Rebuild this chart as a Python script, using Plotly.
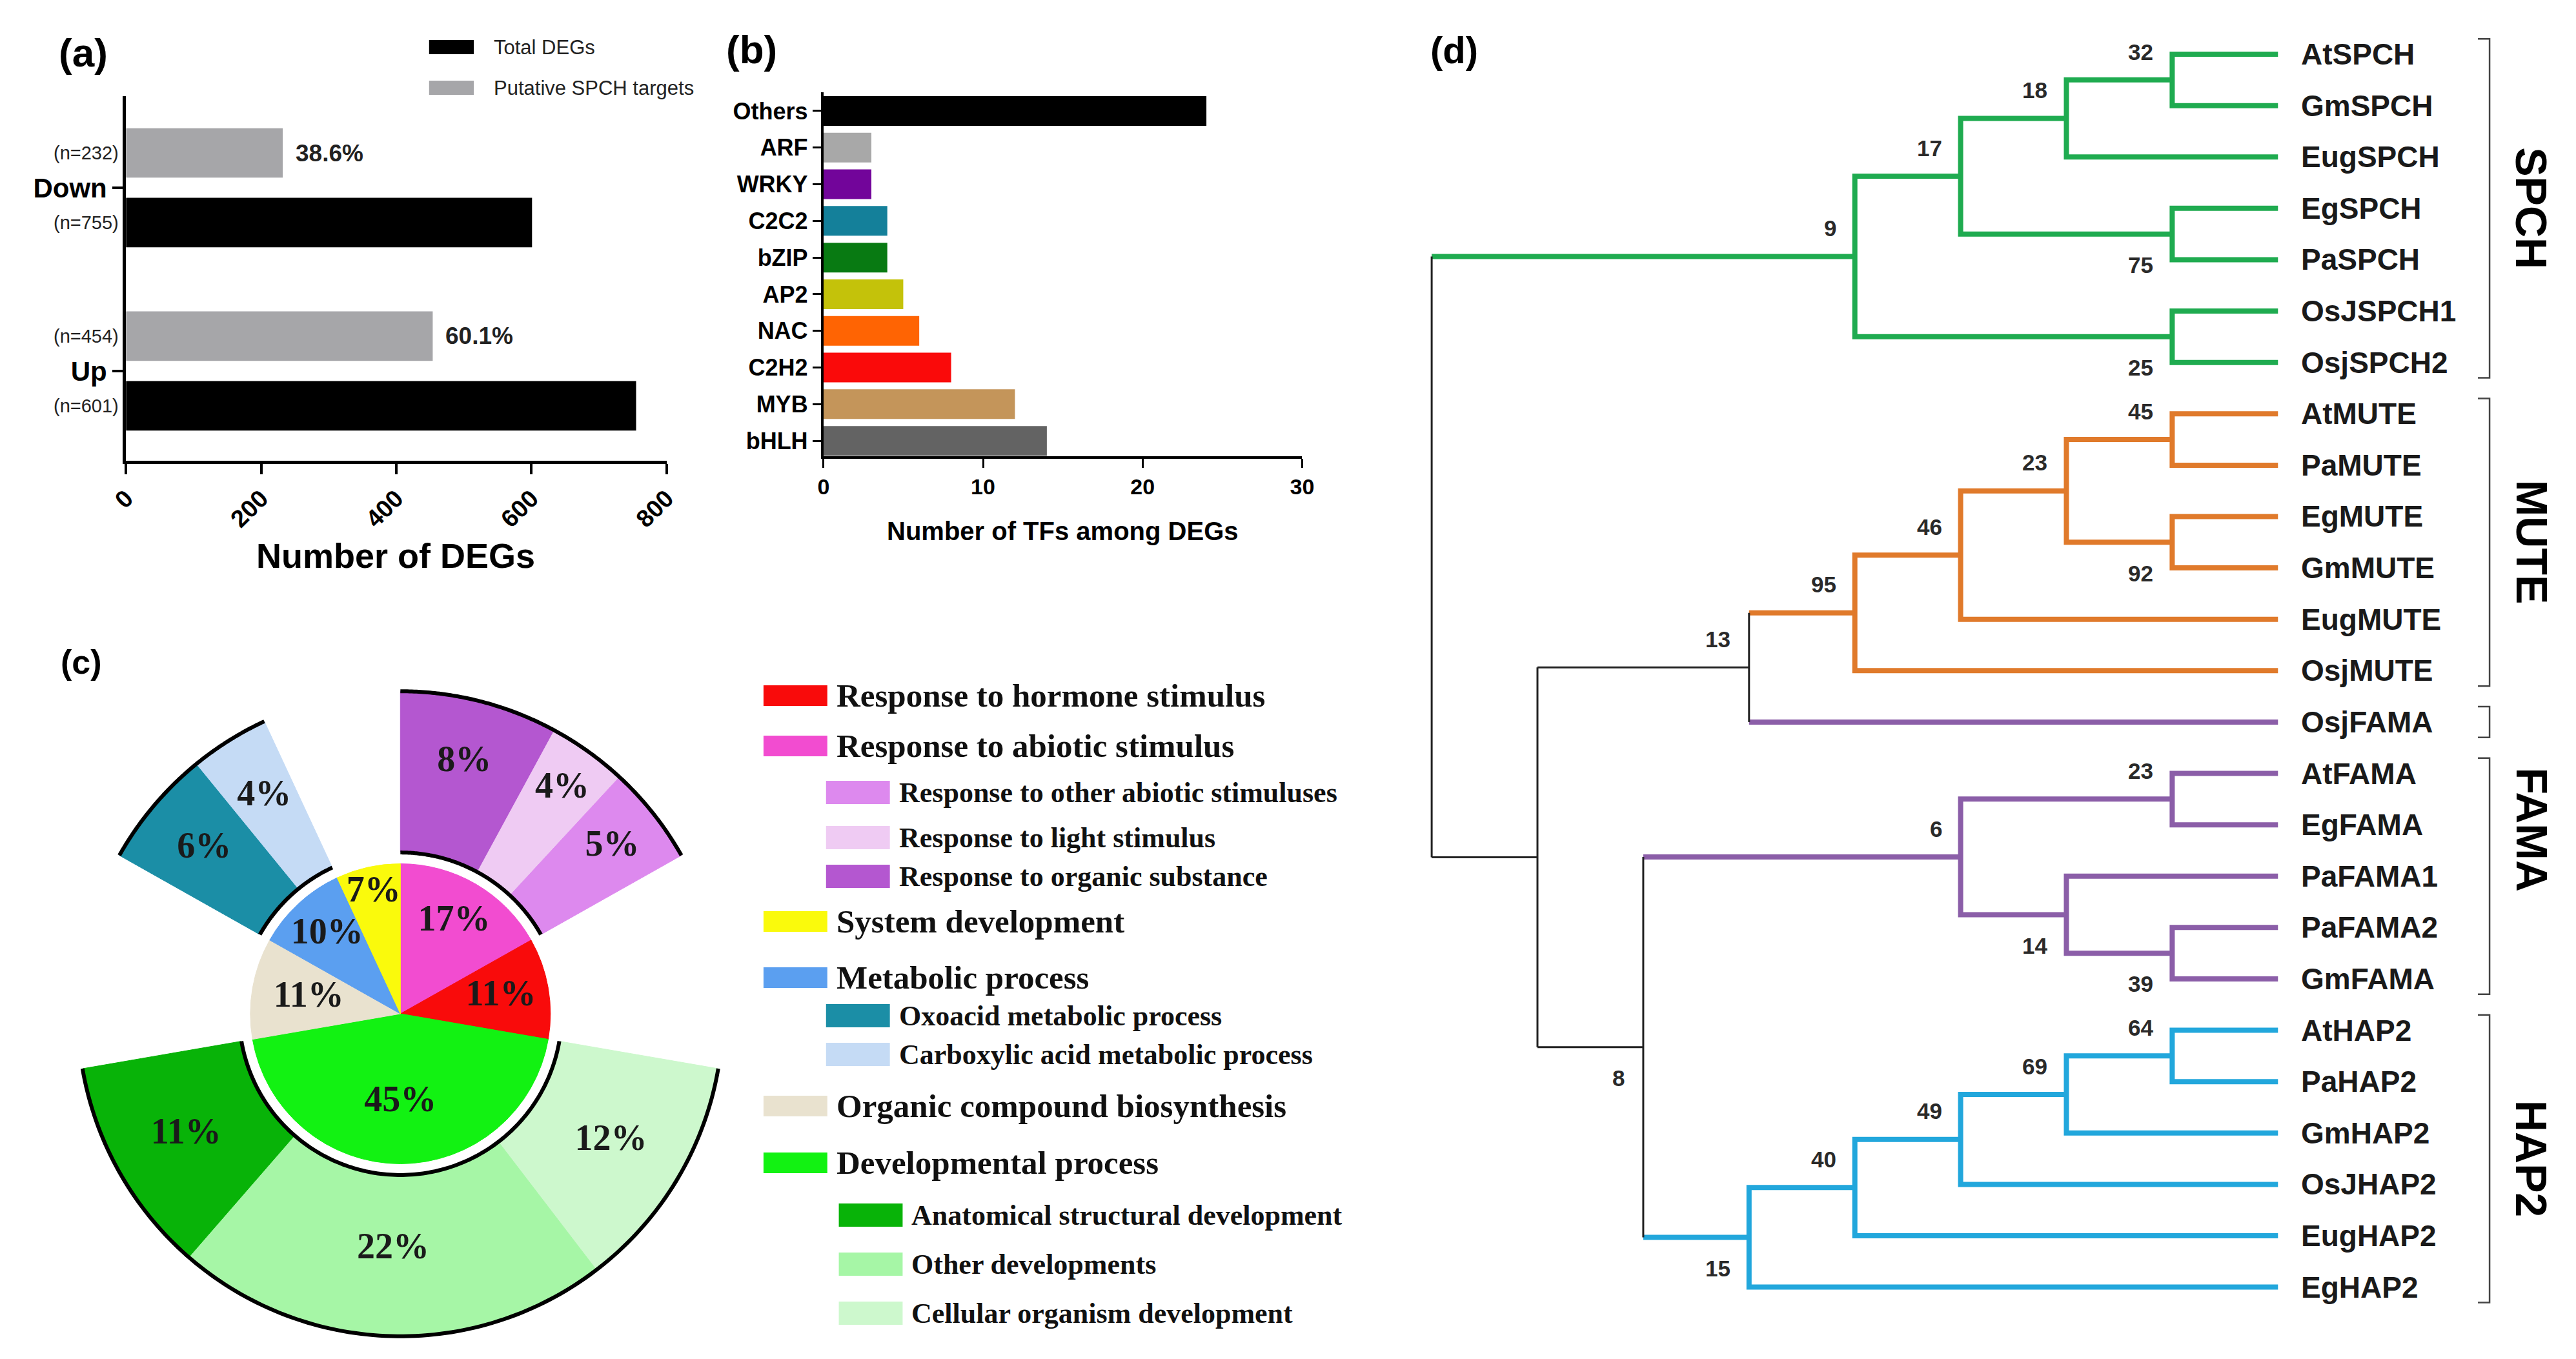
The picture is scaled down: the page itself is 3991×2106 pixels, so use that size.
import numpy as np
import plotly.graph_objects as go

W, H = 3991, 2106
def px(x): return x / W
def py(y): return 1 - y / H

SANS = "Liberation Sans"
SERIF = "Liberation Serif"

# ---------------- (a) DEGs ----------------
a_categories = ["Up", "Down"]
a_total_degs = [755, 601]
a_spch_targets = [454, 232]
a_target_pct = ["60.1%", "38.6%"]
a_total_n = ["(n=601)", "(n=755)"]
a_target_n = ["(n=454)", "(n=232)"]
a_xticks = [0, 200, 400, 600, 800]

# ---------------- (b) TF families ----------------
b_families = ["bHLH", "MYB", "C2H2", "NAC", "AP2", "bZIP", "C2C2", "WRKY", "ARF", "Others"]
b_counts = [14, 12, 8, 6, 5, 4, 4, 3, 3, 24]
b_colors = ["#636363", "#c4955a", "#fa0a0a", "#ff6403", "#c4c20a", "#087a12", "#14809a", "#72059a", "#a8a8a8", "#000000"]
b_xticks = [0, 10, 20, 30]

# ---------------- (c) GO categories ----------------
c_main_labels = ["Response to abiotic stimulus", "Response to hormone stimulus", "Developmental process",
                 "Organic compound biosynthesis", "Metabolic process", "System development"]
c_main_values = [17, 11, 45, 11, 10, 7]
c_main_text = ["17%", "11%", "45%", "11%", "10%", "7%"]
c_main_colors = ["#f24cd0", "#f90b0b", "#12f212", "#e9e2cf", "#5b9ff0", "#fafa0c"]

c_abiotic_labels = ["Response to organic substance", "Response to light stimulus", "Response to other abiotic stimuluses"]
c_abiotic_values = [8, 4, 5]
c_abiotic_colors = ["#b457d0", "#efcbf3", "#dd89ee"]

c_metabolic_labels = ["Oxoacid metabolic process", "Carboxylic acid metabolic process"]
c_metabolic_values = [6, 4]
c_metabolic_colors = ["#1b8ea6", "#c5dbf5"]

c_dev_labels = ["Cellular organism development", "Other developments", "Anatomical structural development"]
c_dev_values = [12, 22, 11]
c_dev_colors = ["#cdf8cd", "#a6f6a6", "#08b308"]

c_legend_order = ["Response to hormone stimulus", "Response to abiotic stimulus",
                  "Response to other abiotic stimuluses", "Response to light stimulus",
                  "Response to organic substance", "System development", "Metabolic process",
                  "Oxoacid metabolic process", "Carboxylic acid metabolic process",
                  "Organic compound biosynthesis", "Developmental process",
                  "Anatomical structural development", "Other developments", "Cellular organism development"]
c_legend_level = [0, 0, 1, 1, 1, 0, 0, 1, 1, 0, 0, 2, 2, 2]

# ---------------- (d) tree ----------------
d_leaves = ["AtSPCH", "GmSPCH", "EugSPCH", "EgSPCH", "PaSPCH", "OsJSPCH1", "OsjSPCH2",
            "AtMUTE", "PaMUTE", "EgMUTE", "GmMUTE", "EugMUTE", "OsjMUTE", "OsjFAMA",
            "AtFAMA", "EgFAMA", "PaFAMA1", "PaFAMA2", "GmFAMA",
            "AtHAP2", "PaHAP2", "GmHAP2", "OsJHAP2", "EugHAP2", "EgHAP2"]
d_leaf_clade = ["SPCH", "SPCH", "SPCH", "SPCH", "SPCH", "SPCH", "SPCH",
                "MUTE", "MUTE", "MUTE", "MUTE", "MUTE", "MUTE", "FAMA",
                "FAMA", "FAMA", "FAMA", "FAMA", "FAMA",
                "HAP2", "HAP2", "HAP2", "HAP2", "HAP2", "HAP2"]
d_node_id = ["n32", "n18", "n75", "n17", "n25", "n9", "n45", "n92", "n23m", "n46", "n95", "n13",
             "n23f", "n39", "n14", "n6", "n64", "n69", "n49", "n40", "n15", "n8", "nA", "root"]
d_node_upper = ["AtSPCH", "n32", "EgSPCH", "n18", "OsJSPCH1", "n17", "AtMUTE", "EgMUTE", "n45", "n23m", "n46", "n95",
                "AtFAMA", "PaFAMA2", "PaFAMA1", "n23f", "AtHAP2", "n64", "n69", "n49", "n40", "n6", "n13", "n9"]
d_node_lower = ["GmSPCH", "EugSPCH", "PaSPCH", "n75", "OsjSPCH2", "n25", "PaMUTE", "GmMUTE", "n92", "EugMUTE", "OsjMUTE", "OsjFAMA",
                "EgFAMA", "GmFAMA", "n39", "n14", "PaHAP2", "GmHAP2", "OsJHAP2", "EugHAP2", "EgHAP2", "n15", "n8", "nA"]
d_node_support = [32, 18, 75, 17, 25, 9, 45, 92, 23, 46, 95, 13,
                  23, 39, 14, 6, 64, 69, 49, 40, 15, 8, None, None]
d_node_clade = ["SPCH", "SPCH", "SPCH", "SPCH", "SPCH", "SPCH", "MUTE", "MUTE", "MUTE", "MUTE", "MUTE", None,
                "FAMA", "FAMA", "FAMA", "FAMA", "HAP2", "HAP2", "HAP2", "HAP2", "HAP2", None, None, None]
d_groups = ["SPCH", "MUTE", "", "FAMA", "HAP2"]
d_group_first = ["AtSPCH", "AtMUTE", "OsjFAMA", "AtFAMA", "AtHAP2"]
d_group_last = ["OsjSPCH2", "OsjMUTE", "OsjFAMA", "GmFAMA", "EgHAP2"]
d_clade_colors = {"SPCH": "#1fab50", "MUTE": "#e07a2b", "FAMA": "#8b5ea8", "HAP2": "#22a7dc"}

fig = go.Figure()
annotations = []
shapes = []

def font(size, family=SANS, bold=False, color="#000000"):
    f = dict(family=family, size=size, color=color)
    if bold:
        f["weight"] = "bold"
    return f

# ===== (a) =====
ya = list(range(len(a_categories)))
fig.add_trace(go.Bar(x=a_total_degs, y=ya, orientation="h", width=0.27, offset=-0.325,
                     marker=dict(color="#000000", line=dict(width=0)), xaxis="x", yaxis="y",
                     showlegend=False, hoverinfo="skip"))
fig.add_trace(go.Bar(x=a_spch_targets, y=ya, orientation="h", width=0.27, offset=0.055,
                     marker=dict(color="#a6a6a9", line=dict(width=0)), xaxis="x", yaxis="y",
                     showlegend=False, hoverinfo="skip"))
for i in ya:
    annotations.append(dict(text=a_target_pct[i], x=a_spch_targets[i], y=i + 0.19, xref="x", yref="y",
                            xanchor="left", yanchor="middle", xshift=18, showarrow=False, font=font(37, bold=True, color="#222")))
    annotations.append(dict(text=a_target_n[i], x=px(154), y=i + 0.19, xref="paper", yref="y",
                            xanchor="right", yanchor="middle", showarrow=False, font=font(29, color="#222")))
    annotations.append(dict(text=a_total_n[i], x=px(154), y=i - 0.19, xref="paper", yref="y",
                            xanchor="right", yanchor="middle", showarrow=False, font=font(29, color="#222")))
for label, color, yc in [("Total DEGs", "#000000", 65), ("Putative SPCH targets", "#a6a6a9", 128)]:
    shapes.append(dict(type="rect", xref="paper", yref="paper", x0=px(638), x1=px(708), y0=py(yc + 11), y1=py(yc - 11),
                       fillcolor=color, line=dict(width=0)))
    annotations.append(dict(text=label, x=px(737), y=py(yc), xref="paper", yref="paper", xanchor="left",
                            yanchor="middle", showarrow=False, font=font(31, color="#222")))
annotations.append(dict(text="Number of DEGs", x=px(586), y=py(853), xref="paper", yref="paper",
                        xanchor="center", yanchor="middle", showarrow=False, font=font(54, bold=True)))

# ===== (b) =====
yb = list(range(len(b_families)))
fig.add_trace(go.Bar(x=b_counts, y=yb, orientation="h", width=0.81,
                     marker=dict(color=b_colors, line=dict(width=0)), xaxis="x2", yaxis="y2",
                     showlegend=False, hoverinfo="skip"))
annotations.append(dict(text="Number of TFs among DEGs", x=px(1631), y=py(815), xref="paper", yref="paper",
                        xanchor="center", yanchor="middle", showarrow=False, font=font(40, bold=True)))

# ===== (c) =====
deg = 360.0 / sum(c_main_values)
main_w = np.array(c_main_values) * deg
main_start = np.concatenate([[0.0], np.cumsum(main_w)[:-1]])
main_mid = main_start + main_w / 2

R_PIE, R_ARC, R_BASE, R_OUT = 1.0, 1.075, 1.08, 2.15
main_label_r = [0.71, 0.68, 0.59, 0.62, 0.72, 0.83]
sub_label_r = [1.73, 1.85, 1.80, 1.71, 1.71, 1.64, 1.57, 1.64]

fig.add_trace(go.Barpolar(r=[R_PIE] * len(c_main_values), theta=main_mid, width=main_w, base=0,
                          marker=dict(color=c_main_colors, line=dict(color=c_main_colors, width=1)),
                          subplot="polar", showlegend=False, hoverinfo="skip"))
sub_groups = [(0, c_abiotic_values, c_abiotic_colors), (4, c_metabolic_values, c_metabolic_colors),
              (2, c_dev_values, c_dev_colors)]
sub_theta, sub_w, sub_col, sub_txt = [], [], [], []
for parent, vals, cols in sub_groups:
    s = main_start[parent]
    for v, col in zip(vals, cols):
        w = v * deg
        sub_theta.append(s + w / 2)
        sub_w.append(w)
        sub_col.append(col)
        sub_txt.append(f"{v}%")
        s += w
fig.add_trace(go.Barpolar(r=[R_OUT - R_BASE] * len(sub_theta), theta=sub_theta, width=sub_w, base=R_BASE,
                          marker=dict(color=sub_col, line=dict(color=sub_col, width=1)),
                          subplot="polar", showlegend=False, hoverinfo="skip"))
for parent, vals, cols in sub_groups:
    t0 = main_start[parent]
    t1 = t0 + main_w[parent]
    th = np.linspace(t0, t1, 150)
    for rr in (R_ARC, R_OUT):
        fig.add_trace(go.Scatterpolar(r=[rr] * len(th), theta=th, mode="lines",
                                      line=dict(color="#000000", width=6), subplot="polar",
                                      showlegend=False, hoverinfo="skip"))
fig.add_trace(go.Scatterpolar(r=main_label_r, theta=main_mid, mode="text", text=c_main_text,
                              textfont=font(56, SERIF, True, "#1a1a1a"), subplot="polar",
                              showlegend=False, hoverinfo="skip"))
fig.add_trace(go.Scatterpolar(r=sub_label_r, theta=sub_theta, mode="text", text=sub_txt,
                              textfont=font(56, SERIF, True, "#1a1a1a"), subplot="polar",
                              showlegend=False, hoverinfo="skip"))

c_name_color = dict(zip(c_main_labels + c_abiotic_labels + c_metabolic_labels + c_dev_labels,
                        c_main_colors + c_abiotic_colors + c_metabolic_colors + c_dev_colors))
legend_y = [1070, 1148, 1220, 1290, 1350, 1420, 1507, 1566, 1626, 1706, 1794, 1875, 1951, 2027]
indent = {0: 1162, 1: 1260, 2: 1280}
for name, lvl, yc in zip(c_legend_order, c_legend_level, legend_y):
    x0 = indent[lvl]
    hh = 16 if lvl == 0 else 18
    shapes.append(dict(type="rect", xref="paper", yref="paper", x0=px(x0), x1=px(x0 + 100),
                       y0=py(yc + hh), y1=py(yc - hh), fillcolor=c_name_color[name], line=dict(width=0)))
    annotations.append(dict(text=name, x=px(x0 + 112), y=py(yc), xref="paper", yref="paper",
                            xanchor="left", yanchor="middle", showarrow=False,
                            font=font(51 if lvl == 0 else 44, SERIF, True, "#111")))

# ===== (d) tree =====
pos_y = {n: i for i, n in enumerate(d_leaves)}
pos_x = {n: 8 for n in d_leaves}
clade_of = dict(zip(d_leaves, d_leaf_clade))
parent_of = {}
for nid, up, lo, cl in zip(d_node_id, d_node_upper, d_node_lower, d_node_clade):
    pos_y[nid] = (pos_y[up] + pos_y[lo]) / 2
    pos_x[nid] = min(pos_x[up], pos_x[lo]) - 1
    clade_of[nid] = cl
    parent_of[up] = (nid, "upper")
    parent_of[lo] = (nid, "lower")

segs = {k: ([], []) for k in list(d_clade_colors) + ["black"]}
def add_seg(key, xs, ys):
    segs[key][0].extend(list(xs) + [None])
    segs[key][1].extend(list(ys) + [None])

for nid, up, lo, cl in zip(d_node_id, d_node_upper, d_node_lower, d_node_clade):
    xp = pos_x[nid]
    if cl is not None:
        add_seg(cl, [pos_x[up], xp, xp, pos_x[lo]], [pos_y[up], pos_y[up], pos_y[lo], pos_y[lo]])
    else:
        add_seg("black", [xp, xp], [pos_y[up], pos_y[lo]])
        for c in (up, lo):
            key = clade_of[c] if clade_of[c] is not None else "black"
            add_seg(key, [xp, pos_x[c]], [pos_y[c], pos_y[c]])

for key, (xs, ys) in segs.items():
    if not xs:
        continue
    col = d_clade_colors.get(key, "#222222")
    wid = 3 if key == "black" else 8
    fig.add_trace(go.Scatter(x=xs, y=ys, mode="lines", line=dict(color=col, width=wid),
                             xaxis="x3", yaxis="y3", showlegend=False, hoverinfo="skip"))

for nid, sup in zip(d_node_id, d_node_support):
    if sup is None:
        continue
    side = parent_of[nid][1]
    yy = pos_y[nid] + (-0.55 if side == "upper" else 0.6)
    annotations.append(dict(text=str(sup), x=pos_x[nid], y=yy, xref="x3", yref="y3", xanchor="right",
                            yanchor="middle", xshift=-27, showarrow=False, font=font(35, bold=True, color="#2a2a2a")))
for n in d_leaves:
    annotations.append(dict(text=n, x=pos_x[n], y=pos_y[n], xref="x3", yref="y3", xanchor="left",
                            yanchor="middle", xshift=34, showarrow=False, font=font(46, bold=True, color="#1a1a1a")))
group_label_shift = {"FAMA": -0.9}
for g, f, l in zip(d_groups, d_group_first, d_group_last):
    y0 = pos_y[f] - 0.3
    y1 = pos_y[l] + 0.3
    xb = 10.0
    shapes.append(dict(type="path", xref="x3", yref="y3",
                       path=f"M {xb - 0.11},{y0} L {xb},{y0} L {xb},{y1} L {xb - 0.11},{y1}",
                       line=dict(color="#444", width=2.5)))
    if g:
        annotations.append(dict(text=g, x=10.4, y=(y0 + y1) / 2 + group_label_shift.get(g, 0), xref="x3", yref="y3",
                                xanchor="center", yanchor="middle", textangle=90, showarrow=False,
                                font=font(68, bold=True)))

for lab, xx, yy, sz in [("(a)", 96, 73, 62), ("(b)", 1143, 69, 62), ("(c)", 93, 1018, 52), ("(d)", 2244, 70, 58)]:
    annotations.append(dict(text=lab, x=px(xx), y=py(yy), xref="paper", yref="paper", xanchor="center",
                            yanchor="middle", showarrow=False, font=font(sz, bold=True)))

axis_common = dict(showgrid=False, zeroline=False, showline=True, linecolor="black",
                   ticks="outside", tickcolor="black")

fig.update_layout(
    width=W, height=H, margin=dict(l=0, r=0, t=0, b=0),
    paper_bgcolor="white", plot_bgcolor="white", barmode="overlay",
    xaxis=dict(domain=[px(163), px(1010)], range=[0, 800], tickvals=a_xticks, tickangle=-45,
               linewidth=5, tickwidth=4, ticklen=16, tickfont=font(38, bold=True), anchor="y", **axis_common),
    yaxis=dict(domain=[py(706), py(141)], range=[-0.49, 1.5], tickvals=ya, ticktext=a_categories,
               linewidth=5, tickwidth=4, ticklen=16, tickfont=font(42, bold=True), anchor="x", **axis_common),
    xaxis2=dict(domain=[px(1256), px(2006)], range=[0, 30], tickvals=b_xticks,
                linewidth=4, tickwidth=3, ticklen=14, tickfont=font(34, bold=True), anchor="y2", **axis_common),
    yaxis2=dict(domain=[py(699), py(135)], range=[-0.42, 9.51], tickvals=yb, ticktext=b_families,
                linewidth=4, tickwidth=3, ticklen=13, tickfont=font(36, bold=True), anchor="x2", **axis_common),
    xaxis3=dict(domain=[px(2150), 1], range=[-0.356, 10.75], visible=False, anchor="y3"),
    yaxis3=dict(domain=[0, 1], range=[25.5, -0.955], visible=False, anchor="x3"),
    polar=dict(domain=dict(x=[px(64), px(1122)], y=[py(2092), py(1034)]),
               bgcolor="rgba(0,0,0,0)", hole=0, bargap=0,
               radialaxis=dict(visible=False, range=[0, 2.25]),
               angularaxis=dict(visible=False, rotation=90, direction="clockwise")),
    annotations=annotations, shapes=shapes,
)

fig.write_html("out.html")
